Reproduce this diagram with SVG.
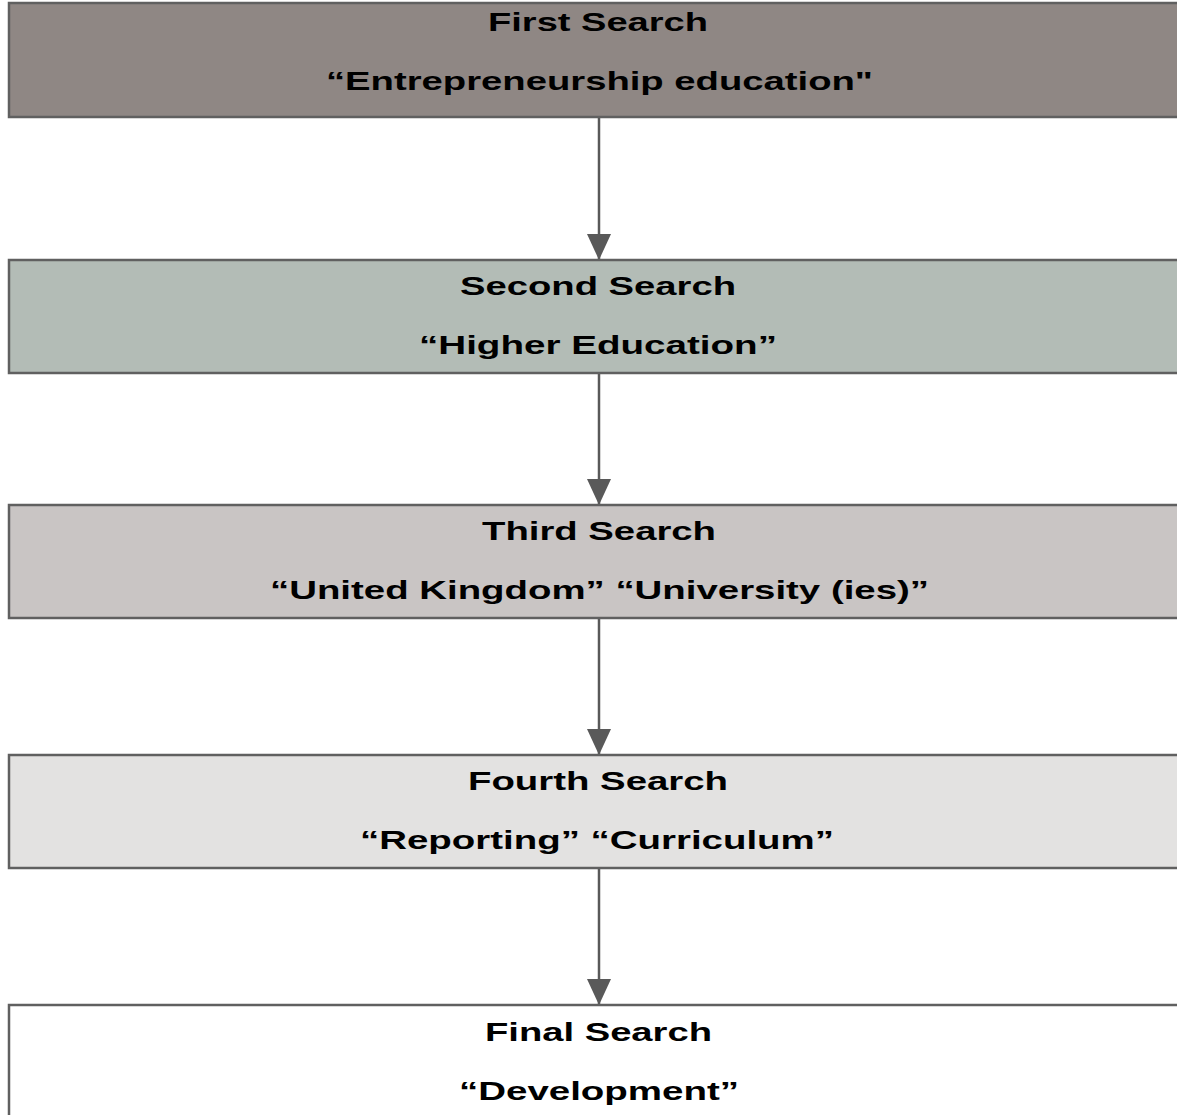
<svg xmlns="http://www.w3.org/2000/svg" width="1177" height="1115" viewBox="0 0 1177 1115">
<style>
.box{stroke:#606060;stroke-width:2.5}
.t{font-family:"Liberation Sans",Arial,sans-serif;font-weight:bold;font-size:25.5px;fill:#000;text-anchor:middle}
.c{stroke:#595959;stroke-width:2.5;fill:none}
</style>
<defs>
<marker id="ah" markerUnits="userSpaceOnUse" markerWidth="28" markerHeight="24" refX="26" refY="12" orient="auto">
<path d="M0,0 L26,12 L0,24 Z" fill="#595959"/>
</marker>
</defs>
<rect width="1177" height="1115" fill="#fff"/>
<g id="connectors">
<line class="c" x1="599" y1="117" x2="599" y2="260" marker-end="url(#ah)"/>
<line class="c" x1="599" y1="373" x2="599" y2="505" marker-end="url(#ah)"/>
<line class="c" x1="599" y1="618" x2="599" y2="755" marker-end="url(#ah)"/>
<line class="c" x1="599" y1="868" x2="599" y2="1005" marker-end="url(#ah)"/>
</g>
<g id="first">
<rect class="box" x="9" y="3" width="1180" height="114" fill="#8F8784"/>
<text class="t" x="598" y="31" textLength="220" lengthAdjust="spacingAndGlyphs">First Search</text>
<text class="t" x="599.5" y="90" textLength="547" lengthAdjust="spacingAndGlyphs">“Entrepreneurship education"</text>
</g>
<g id="second">
<rect class="box" x="9" y="260" width="1180" height="113" fill="#B3BCB6"/>
<text class="t" x="598" y="295" textLength="276" lengthAdjust="spacingAndGlyphs">Second Search</text>
<text class="t" x="598" y="354" textLength="358" lengthAdjust="spacingAndGlyphs">“Higher Education”</text>
</g>
<g id="third">
<rect class="box" x="9" y="505" width="1180" height="113" fill="#C9C5C4"/>
<text class="t" x="599" y="540" textLength="234" lengthAdjust="spacingAndGlyphs">Third Search</text>
<text class="t" x="599.5" y="599" textLength="659" lengthAdjust="spacingAndGlyphs">“United Kingdom” “University (ies)”</text>
</g>
<g id="fourth">
<rect class="box" x="9" y="755" width="1180" height="113" fill="#E3E2E1"/>
<text class="t" x="598" y="790" textLength="260" lengthAdjust="spacingAndGlyphs">Fourth Search</text>
<text class="t" x="597" y="849" textLength="474" lengthAdjust="spacingAndGlyphs">“Reporting” “Curriculum”</text>
</g>
<g id="final">
<rect class="box" x="9" y="1005" width="1180" height="120" fill="#FFFFFF"/>
<text class="t" x="598.5" y="1041" textLength="227" lengthAdjust="spacingAndGlyphs">Final Search</text>
<text class="t" x="599" y="1100" textLength="280" lengthAdjust="spacingAndGlyphs">“Development”</text>
</g>
</svg>
